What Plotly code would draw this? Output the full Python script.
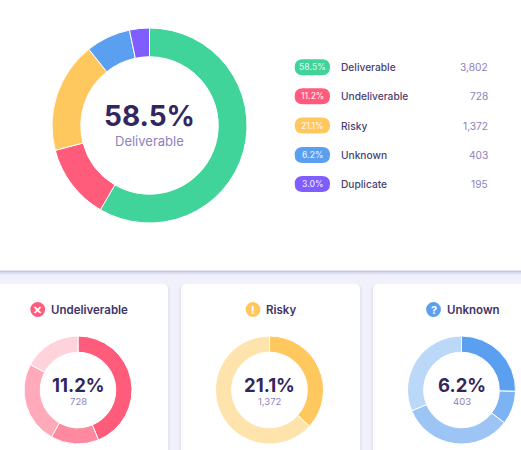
import plotly.graph_objects as go

W = 521
H = 450

# summary
labels = ['Deliverable', 'Undeliverable', 'Risky', 'Unknown', 'Duplicate']
count_text = ['3,802', '728', '1,372', '403', '195']
pct_text = ['58.5%', '11.2%', '21.1%', '6.2%', '3.0%']
colors = ['#40d39a', '#ff5c7c', '#ffc85f', '#5a9ff0', '#7f5dff']
# slice sizes as drawn in the picture (they differ a bit from the printed labels)
summary_parts = [58.4, 12.5, 18.4, 7.4, 3.3]

# breakdown rings, shares
undeliverable_parts = [43.8, 14.4, 24.6, 17.2]
undeliverable_colors = ['#ff5c7c', '#ff8a9f', '#ffaabb', '#ffd3dc']
risky_parts = [36.7, 63.3]
risky_colors = ['#ffc85f', '#ffe3ac']
unknown_parts = [25.4, 10.0, 33.3, 31.3]
unknown_colors = ['#5a9ff0', '#7cb3f3', '#9cc4f5', '#bcd8f8']

DARK = '#33265f'
MUTED = '#8c82bd'
BG = '#f0f1fb'
FONT = 'Inter'


def fx(x):
    return x / W


def fy(y):
    return 1 - y / H


def rounded(x0, y0, x1, y1, r):
    # rounded box as an svg path in paper coords
    p = [
        f'M {fx(x0 + r)} {fy(y0)}', f'L {fx(x1 - r)} {fy(y0)}',
        f'Q {fx(x1)} {fy(y0)} {fx(x1)} {fy(y0 + r)}', f'L {fx(x1)} {fy(y1 - r)}',
        f'Q {fx(x1)} {fy(y1)} {fx(x1 - r)} {fy(y1)}', f'L {fx(x0 + r)} {fy(y1)}',
        f'Q {fx(x0)} {fy(y1)} {fx(x0)} {fy(y1 - r)}', f'L {fx(x0)} {fy(y0 + r)}',
        f'Q {fx(x0)} {fy(y0)} {fx(x0 + r)} {fy(y0)}', 'Z',
    ]
    return ' '.join(p)


def box(x0, y0, x1, y1, r, color):
    return dict(type='path', xref='paper', yref='paper', path=rounded(x0, y0, x1, y1, r),
                fillcolor=color, line=dict(width=0), layer='below')


def rect(x0, y0, x1, y1, color):
    return dict(type='rect', xref='paper', yref='paper', x0=fx(x0), x1=fx(x1), y0=fy(y0), y1=fy(y1),
                fillcolor=color, line=dict(width=0), layer='below')


def text(x, y, s, size, color, weight=400, anchor='center'):
    return dict(xref='paper', yref='paper', x=fx(x), y=fy(y), text=s, showarrow=False,
                xanchor=anchor, yanchor='middle', align=anchor,
                font=dict(family=FONT, size=size, color=color, weight=weight))


def ring(values, cols, cx, cy, r, hole, name):
    return go.Pie(values=values, marker=dict(colors=cols, line=dict(color='white', width=1)),
                  hole=hole, sort=False, direction='clockwise', rotation=0, textinfo='none',
                  showlegend=False, hoverinfo='skip', name=name,
                  domain=dict(x=[fx(cx - r), fx(cx + r)], y=[fy(cy + r), fy(cy - r)]))


fig = go.Figure()
fig.add_trace(ring(summary_parts, colors, 149.5, 125.5, 97.5, 0.705, 'summary'))
fig.add_trace(ring(undeliverable_parts, undeliverable_colors, 78, 390, 54, 0.70, 'undeliverable'))
fig.add_trace(ring(risky_parts, risky_colors, 269.5, 390, 54, 0.70, 'risky'))
fig.add_trace(ring(unknown_parts, unknown_colors, 461.5, 390, 54, 0.70, 'unknown'))

shapes = [rect(0, 0, W, H, BG)]
# panel + soft shadow
for i, a in enumerate([0.04, 0.05, 0.07, 0.10]):
    shapes.append(rect(0, 0, W, 275 - i, f'rgba(80,70,150,{a})'))
shapes.append(rect(0, 0, W, 270.5, 'white'))

# cards
for x0, x1 in [(-20, 168), (181, 360), (373, 552)]:
    for i, a in enumerate([0.015, 0.02, 0.03]):
        shapes.append(box(x0 - 3 + i, 284, x1 + 3 - i, H + 10, 6, f'rgba(80,70,150,{a})'))
    shapes.append(box(x0, 284, x1, H + 10, 5, 'white'))

annos = [
    text(149, 116, pct_text[0], 28, DARK, 700),
    text(149, 141, labels[0], 13, MUTED),
]

# legend rows
rows_y = [67.3, 96.2, 125.5, 155, 184]
for y, name, cnt, pct, col in zip(rows_y, labels, count_text, pct_text, colors):
    shapes.append(box(294.7, y - 8, 330, y + 8, 8, col))
    annos.append(text(312.4, y, pct, 8.5, 'rgba(255,255,255,0.85)', 500))
    annos.append(text(338.5, y, name, 10.2, '#4a3f73', 500, 'left'))
    annos.append(text(490, y, cnt, 10.2, MUTED, 400, 'right'))

# card headers + centre text
cards = [
    (78, 37.7, 48.8, 'Undeliverable', '✕', colors[1], pct_text[1], count_text[1]),
    (269.5, 253, 264, 'Risky', '!', colors[2], pct_text[2], count_text[2]),
    (461.5, 433.5, 445, 'Unknown', '?', colors[3], pct_text[3], count_text[3]),
]
for cx, ix, tx, name, mark, col, pct, cnt in cards:
    shapes.append(dict(type='circle', xref='paper', yref='paper', fillcolor=col, line=dict(width=0),
                       layer='below', x0=fx(ix - 7.4), x1=fx(ix + 7.4), y0=fy(309.5 + 7.4), y1=fy(309.5 - 7.4)))
    annos.append(text(ix, 309.5, mark, 11, 'white', 700))
    annos.append(text(tx, 309.5, name, 11.5, '#3f3468', 600, 'left'))
    annos.append(text(cx, 385, pct, 18.5, DARK, 700))
    annos.append(text(cx, 401.5, cnt, 9.5, MUTED))

fig.update_layout(width=W, height=H, margin=dict(l=0, r=0, t=0, b=0), paper_bgcolor='white',
                  shapes=shapes, annotations=annos, showlegend=False)

fig.write_html('out.html', config=dict(displayModeBar=False),
               post_script="document.body.style.margin='0';document.body.style.overflow='hidden';")
